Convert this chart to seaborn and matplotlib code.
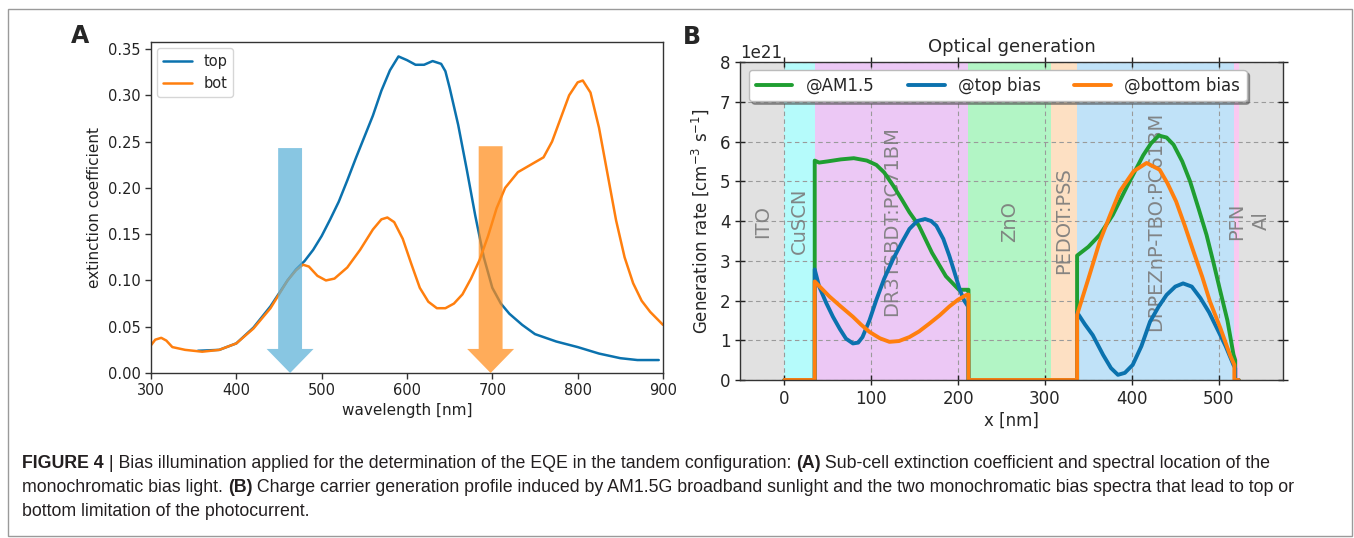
import numpy as np
import pandas as pd
import matplotlib
matplotlib.use("Agg")
import matplotlib.pyplot as plt
import seaborn as sns
from matplotlib.patches import Rectangle

# ---------------- Panel A data ----------------
wl_top = [355, 380, 400, 420, 440, 460, 470, 480, 490, 500, 510, 520, 530, 540, 550, 560, 570, 580,
          590, 600, 610, 620, 630, 640, 645, 650, 660, 670, 680, 690, 700, 710, 720, 735, 750, 775,
          800, 825, 850, 870, 895]
k_top = [0.024, 0.025, 0.032, 0.049, 0.072, 0.100, 0.112, 0.121, 0.133, 0.148, 0.166, 0.185, 0.208,
         0.232, 0.255, 0.278, 0.305, 0.327, 0.342, 0.338, 0.333, 0.333, 0.337, 0.334, 0.326, 0.308,
         0.268, 0.220, 0.170, 0.125, 0.092, 0.075, 0.064, 0.052, 0.042, 0.034, 0.028, 0.021, 0.016,
         0.014, 0.014]
wl_bot = [300, 305, 312, 318, 325, 340, 360, 380, 400, 420, 440, 460, 470, 478, 485, 495, 505, 515,
          530, 545, 560, 570, 577, 585, 595, 605, 615, 625, 635, 645, 655, 665, 675, 685, 695, 705,
          715, 730, 745, 760, 770, 780, 790, 800, 806, 815, 825, 835, 845, 855, 865, 875, 885, 900]
k_bot = [0.030, 0.036, 0.038, 0.035, 0.028, 0.025, 0.023, 0.025, 0.032, 0.048, 0.070, 0.100, 0.111,
         0.117, 0.115, 0.105, 0.100, 0.102, 0.114, 0.133, 0.155, 0.166, 0.168, 0.163, 0.145, 0.118,
         0.092, 0.077, 0.070, 0.070, 0.075, 0.085, 0.102, 0.122, 0.148, 0.178, 0.200, 0.217, 0.225,
         0.233, 0.250, 0.275, 0.300, 0.314, 0.316, 0.303, 0.265, 0.215, 0.165, 0.125, 0.097, 0.078,
         0.066, 0.052]
arrow_x = [463, 698]
arrow_top = [0.243, 0.245]
arrow_colors = ["#5ab0d8", "#ff8c1a"]

# ---------------- Panel B data (values in 1e21 cm^-3 s^-1) ----------------
layer_names = ["ITO", "CuSCN", "DR3TSBDT:PC71BM", "ZnO", "PEDOT:PSS", "DPPEZnP-TBO:PC61BM", "PFN", "Al"]
layer_start = [-51, 0, 35, 212, 307, 337, 518, 523]
layer_end = [0, 35, 212, 307, 337, 518, 523, 574]
layer_colors = ["#e1e1e1", "#b5fbfb", "#ecc8f5", "#b2f5c5", "#fde0c3", "#c0e2f8", "#fac8f0", "#e1e1e1"]

am_x = [0, 35, 35, 40, 50, 65, 80, 95, 106, 115, 125, 135, 144, 155, 170, 186, 201, 211, 212, 212,
        337, 337, 350, 363, 378, 394, 413, 422, 431, 440, 448, 458, 467, 477, 486, 494, 501, 510,
        517, 519, 519, 523]
am_y = [0, 0, 5.52, 5.47, 5.50, 5.55, 5.58, 5.52, 5.41, 5.22, 4.90, 4.55, 4.22, 3.88, 3.20, 2.61,
        2.27, 2.27, 2.27, 0, 0, 3.13, 3.35, 3.65, 4.15, 4.85, 5.65, 5.95, 6.15, 6.10, 5.92, 5.50,
        5.00, 4.30, 3.65, 2.95, 2.31, 1.50, 0.64, 0.50, 0, 0]
top_x = [0, 35, 35, 40, 48, 56, 64, 71, 79, 85, 90, 98, 106, 115, 125, 135, 144, 153, 162, 169, 175,
         183, 190, 196, 202, 207, 211.5, 212, 337, 337, 346, 355, 367, 376, 384, 392, 401, 411, 421,
         431, 440, 450, 459, 469, 479, 489, 498, 508, 517, 519, 519, 523]
top_y = [0, 0, 2.78, 2.36, 1.95, 1.59, 1.28, 1.04, 0.92, 0.94, 1.08, 1.50, 2.02, 2.55, 3.03, 3.45,
         3.80, 4.00, 4.05, 4.00, 3.88, 3.55, 3.12, 2.70, 2.27, 2.00, 1.85, 0, 0, 1.70, 1.40, 1.13,
         0.63, 0.30, 0.13, 0.18, 0.38, 0.85, 1.47, 1.85, 2.14, 2.35, 2.43, 2.35, 2.06, 1.70, 1.30,
         0.85, 0.38, 0.30, 0, 0]
bot_x = [0, 35, 35, 43, 52, 65, 79, 88, 98, 110, 121, 132, 144, 155, 167, 179, 190, 200, 209.6, 212,
         212, 337, 337, 350, 363, 375, 386, 402, 417, 432, 441, 451, 461, 471, 481, 490, 502, 513,
         518, 518, 523]
bot_y = [0, 0, 2.48, 2.30, 2.10, 1.85, 1.59, 1.40, 1.21, 1.05, 0.96, 0.98, 1.08, 1.22, 1.42, 1.63,
         1.85, 2.02, 2.14, 2.15, 0, 0, 1.64, 2.55, 3.48, 4.15, 4.74, 5.25, 5.46, 5.29, 4.95, 4.49,
         3.88, 3.23, 2.60, 1.97, 1.30, 0.63, 0.38, 0, 0]

C_BLUE = "#0b72ae"
C_ORANGE = "#ff7f0e"
C_GREEN = "#1f9e31"

caption_lines = [
    [("FIGURE 4", True), (" | Bias illumination applied for the determination of the EQE in the tandem configuration: ", False),
     ("(A)", True), (" Sub-cell extinction coefficient and spectral location of the", False)],
    [("monochromatic bias light. ", False), ("(B)", True),
     (" Charge carrier generation profile induced by AM1.5G broadband sunlight and the two monochromatic bias spectra that lead to top or", False)],
    [("bottom limitation of the photocurrent.", False)],
]

# ---------------- Figure ----------------
sns.set_style("white")
plt.rcParams["font.family"] = ["DejaVu Sans"]
W, H = 1354, 538
fig = plt.figure(figsize=(W / 100, H / 100), dpi=100)
fig.patch.set_facecolor("white")

def fx(px):
    return px / W

def fy(py):
    return 1 - py / H

# ---- Panel A ----
axA = fig.add_axes([fx(151), fy(373), fx(663) - fx(151), fy(42) - fy(373)])
dfA_top = pd.DataFrame({"wavelength": wl_top, "k": k_top})
dfA_bot = pd.DataFrame({"wavelength": wl_bot, "k": k_bot})
sns.lineplot(data=dfA_top, x="wavelength", y="k", ax=axA, color=C_BLUE, lw=1.8, label="top", sort=False, estimator=None)
sns.lineplot(data=dfA_bot, x="wavelength", y="k", ax=axA, color=C_ORANGE, lw=1.8, label="bot", sort=False, estimator=None)
for xc, yt, c in zip(arrow_x, arrow_top, arrow_colors):
    axA.arrow(xc, yt, 0, -yt, width=28, head_width=55, head_length=0.026,
              length_includes_head=True, color=c, alpha=0.72, lw=0, zorder=3)
axA.set_xlim(300, 900)
axA.set_ylim(0, 0.3576)
axA.set_xticks([300, 400, 500, 600, 700, 800, 900])
axA.set_yticks([0, 0.05, 0.10, 0.15, 0.20, 0.25, 0.30, 0.35])
axA.set_yticklabels([f"{v:.2f}" for v in [0, 0.05, 0.10, 0.15, 0.20, 0.25, 0.30, 0.35]])
axA.tick_params(axis="both", labelsize=10.5, direction="out", length=4, width=1, color="#333333",
                left=True, bottom=True, labelcolor="#222222")
for s in axA.spines.values():
    s.set_color("#333333")
    s.set_linewidth(1)
axA.set_xlabel("wavelength [nm]", fontsize=11, color="#222222", labelpad=3)
axA.set_ylabel("extinction coefficient", fontsize=11, color="#222222", labelpad=4)
legA = axA.legend(loc="upper left", fontsize=10.5, frameon=True, handlelength=2.0,
                  borderaxespad=0.4, fancybox=True)
legA.get_frame().set_edgecolor("#cccccc")

# ---- Panel B ----
axB = fig.add_axes([fx(740), fy(380), fx(1283) - fx(740), fy(62) - fy(380)])
for nm, a, b, c in zip(layer_names, layer_start, layer_end, layer_colors):
    axB.axvspan(a, b, color=c, lw=0, zorder=0.5)
    axB.text((a + b) / 2, 4.0e21, nm, rotation=90, ha="center", va="center",
             fontsize=14, color="#7a7a7a", alpha=0.9, zorder=1)
scale = 1e21
dfB = [
    (pd.DataFrame({"x": am_x, "G": np.array(am_y) * scale}), C_GREEN, "@AM1.5"),
    (pd.DataFrame({"x": top_x, "G": np.array(top_y) * scale}), C_BLUE, "@top bias"),
    (pd.DataFrame({"x": bot_x, "G": np.array(bot_y) * scale}), C_ORANGE, "@bottom bias"),
]
for d, c, lab in dfB:
    sns.lineplot(data=d, x="x", y="G", ax=axB, color=c, lw=2.8, label=lab, sort=False, estimator=None)
axB.set_xlim(-51, 574)
axB.set_ylim(0, 8e21)
axB.set_xticks([0, 100, 200, 300, 400, 500])
axB.set_yticks(np.arange(0, 9) * 1e21)
axB.grid(True, color="#9a9a9a", ls=(0, (4, 3)), lw=0.8)
axB.tick_params(axis="both", which="both", direction="inout", length=7, width=1, labelsize=12,
                top=True, right=True, left=True, bottom=True, color="#222222")
for s in axB.spines.values():
    s.set_color("#333333")
    s.set_linewidth(1)
axB.yaxis.get_offset_text().set_fontsize(12)
axB.set_xlabel("x [nm]", fontsize=12, labelpad=3)
axB.set_ylabel("Generation rate [cm$^{-3}$ s$^{-1}$]", fontsize=12, labelpad=6)
axB.set_title("Optical generation", fontsize=13, pad=7)
legB = axB.legend(loc="upper center", bbox_to_anchor=(0.475, 0.985), ncol=3, fontsize=12,
                  frameon=True, shadow=True, fancybox=True, handlelength=2.2, borderaxespad=0.2,
                  framealpha=1)
legB.get_frame().set_edgecolor("#bbbbbb")

# ---- Panel labels ----
fig.text(fx(80), fy(36), "A", fontsize=17, fontweight="bold", ha="center", va="center")
fig.text(fx(692), fy(37), "B", fontsize=17, fontweight="bold", ha="center", va="center")

# ---- Border ----
fig.patches.append(Rectangle((fx(8), fy(536)), fx(1352) - fx(8), fy(9) - fy(536),
                             transform=fig.transFigure, fill=False, ec="#9a9a9a", lw=1))

# ---- Caption ----
fig.canvas.draw()
renderer = fig.canvas.get_renderer()
line_y = [463, 487, 511]
for segs, yy in zip(caption_lines, line_y):
    x = 22
    for txt, bold in segs:
        t = fig.text(fx(x), fy(yy), txt, fontsize=12.8, fontweight="bold" if bold else "normal",
                     family=["Liberation Sans", "DejaVu Sans"], ha="left", va="center", color="#231f20")
        x += t.get_window_extent(renderer).width

fig.savefig("out.png", dpi=100)
